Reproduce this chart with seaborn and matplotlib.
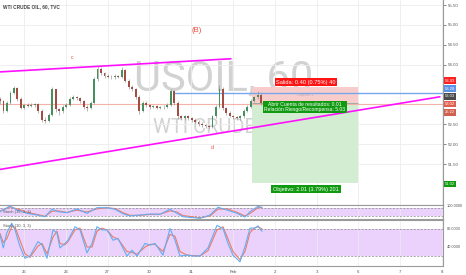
import matplotlib
matplotlib.use('Agg')
import matplotlib.pyplot as plt
import seaborn as sns
import numpy as np

sns.set_theme(style='white')
plt.rcParams['font.family'] = ['Liberation Sans', 'DejaVu Sans']

# ---------------- data ----------------
title = "WTI CRUDE OIL, 60, TVC"
day_labels = ["25", "26", "27", "30", "31", "Feb", "2", "3", "6", "7", "8"]
day_pos = [0, 1, 2, 3, 4, 5, 6, 7, 8, 9, 10]

bar_start = -0.574      # first candle (trading days from Jan 25)
bar_step = 1 / 12       # candle spacing in days
first_open = 53.15
closes = [53.10, 52.85, 53.05, 53.30, 53.42, 53.15, 52.92, 52.98, 52.97, 53.00,
          53.01, 52.85, 52.62, 52.58, 52.75, 53.38, 52.88, 52.84, 52.95, 53.00,
          53.15, 53.19, 53.16, 53.10, 52.95, 52.92, 53.04, 53.65, 53.90, 53.80,
          53.72, 53.70, 53.68, 53.72, 53.70, 53.88, 53.60, 53.45, 53.38, 53.20,
          52.85, 53.05, 52.98, 52.94, 52.96, 52.92, 52.93, 52.95, 53.00, 53.33,
          53.05, 52.70, 52.66, 52.70, 52.66, 52.62, 52.56, 52.52, 52.49, 52.46,
          52.43, 52.70, 52.95, 53.40, 52.92, 52.80, 52.72, 52.68, 52.66, 52.70,
          52.85, 52.95, 53.10, 53.18, 53.25, 53.03]
highs = [53.20, 53.12, 53.08, 53.34, 53.47, 53.44, 53.18, 53.02, 53.03, 53.04,
         53.05, 53.03, 52.88, 52.68, 52.80, 53.43, 53.40, 52.92, 52.99, 53.04,
         53.19, 53.23, 53.22, 53.18, 53.12, 52.99, 53.08, 53.70, 53.96, 53.94,
         53.83, 53.76, 53.74, 53.76, 53.75, 53.95, 53.90, 53.63, 53.49, 53.41,
         53.23, 53.09, 53.08, 53.01, 53.00, 52.99, 52.97, 52.99, 53.05, 53.38,
         53.36, 53.08, 52.74, 52.75, 52.73, 52.69, 52.65, 52.60, 52.55, 52.52,
         52.49, 52.74, 52.99, 53.50, 53.44, 52.95, 52.84, 52.75, 52.71, 52.74,
         52.89, 52.99, 53.14, 53.22, 53.33, 53.28]
lows = [53.02, 52.78, 52.82, 53.02, 53.26, 53.10, 52.88, 52.88, 52.93, 52.94,
        52.95, 52.80, 52.56, 52.53, 52.55, 52.72, 52.82, 52.74, 52.80, 52.91,
        52.97, 53.11, 53.12, 53.05, 52.88, 52.84, 52.89, 53.01, 53.60, 53.74,
        53.67, 53.66, 53.64, 53.65, 53.66, 53.67, 53.56, 53.40, 53.33, 53.14,
        52.77, 52.82, 52.93, 52.90, 52.91, 52.88, 52.89, 52.90, 52.92, 52.97,
        53.00, 52.64, 52.60, 52.62, 52.61, 52.57, 52.51, 52.47, 52.44, 52.41,
        52.38, 52.40, 52.66, 52.92, 52.86, 52.75, 52.68, 52.63, 52.61, 52.62,
        52.67, 52.82, 52.92, 53.06, 53.14, 52.99]

# user drawings
wedge_top_t, wedge_top_p = [-0.574, 4.95], [53.82, 54.15]
wedge_bot_t, wedge_bot_p = [-0.574, 9.95], [51.37, 53.195]
blue_level, blue_from = 53.28, 3.565
red_level = 53.02
pos_t = [5.45, 7.99]
entry, stop, target = 53.03, 53.43, 51.02

# Stoch (10,3,3)
st2_t = [-0.574, -0.495, -0.414, -0.294, -0.215, -0.096, 0.024, 0.144, 0.335, 0.431,
         0.550, 0.694, 0.789, 0.861, 0.981, 1.053, 1.220, 1.340, 1.507, 1.627,
         1.746, 1.866, 1.986, 2.129, 2.249, 2.464, 2.584, 2.703, 2.895, 3.014,
         3.134, 3.325, 3.493, 3.612, 3.732, 3.900, 4.043, 4.211, 4.402, 4.617,
         4.761, 4.880, 5.000, 5.167, 5.287, 5.407, 5.526, 5.598, 5.694]
st2_k = [67, 38, 71, 93, 78, 41, 15, 20, 52, 45, 15, 78, 71, 38, 48, 55, 85, 78, 27, 48,
         85, 78, 78, 55, 59, 20, 33, 20, 48, 44, 48, 22, 81, 55, 20, 22, 20, 20, 38, 88,
         81, 48, 22, 7, 41, 82, 82, 87, 75]
st2_d = [70, 50, 58, 85, 84, 55, 25, 17, 42, 48, 25, 62, 75, 48, 45, 52, 78, 82, 40, 40,
         75, 82, 78, 62, 58, 30, 28, 24, 40, 46, 46, 30, 68, 64, 30, 22, 21, 20, 32, 78,
         85, 58, 30, 12, 30, 72, 83, 85, 80]
# Stoch (15,3,3)
st1_t = [-0.574, -0.335, -0.167, 0.072, 0.311, 0.502, 0.670, 0.813, 1.029, 1.268,
         1.507, 1.746, 1.986, 2.177, 2.368, 2.536, 2.775, 3.014, 3.254, 3.493,
         3.660, 3.804, 4.211, 4.450, 4.641, 4.856, 5.096, 5.287, 5.407, 5.598, 5.694]
st1_k = [52, 92, 64, 41, 29, 17, 69, 52, 45, 71, 41, 80, 80, 69, 38, 22, 29, 36, 34, 69,
         41, 17, 6, 29, 83, 64, 41, 15, 52, 90, 80]
st1_d = [55, 85, 72, 48, 33, 20, 55, 58, 47, 63, 50, 72, 80, 74, 45, 27, 27, 33, 35, 58,
         50, 25, 10, 22, 70, 72, 48, 22, 40, 80, 84]

price_ticks = [51.5, 52.0, 52.5, 54.0, 54.5, 55.0, 55.5]

# ---------------- layout ----------------
W, H = 466, 275
fig = plt.figure(figsize=(W / 100, H / 100), dpi=100)
fig.patch.set_facecolor('white')


def px_axes(x0, y0, x1, y1):
    return fig.add_axes([x0 / W, 1 - y1 / H, (x1 - x0) / W, (y1 - y0) / H])


def ftxt(xp, yp, s, **kw):
    return fig.text(xp / W, 1 - yp / H, s, **kw)


ax = px_axes(0, 0, 443, 205)
ax1 = px_axes(0, 205, 443, 219)
ax2 = px_axes(0, 220, 443, 266)

XL = (-0.574, 10.024)
GRID = '#ededed'
EDGE = '#9a9a9a'
TICKC = '#555555'

for a in (ax, ax1, ax2):
    a.set_xlim(*XL)
    a.set_facecolor('white')
    a.set_xticks(day_pos)
    a.tick_params(axis='x', labelbottom=False, length=0)
    for s in a.spines.values():
        s.set_color(EDGE)
        s.set_linewidth(0.8)
    a.spines['left'].set_visible(False)

ax.spines['top'].set_visible(False)
ax.set_ylim(50.477, 55.626)
ax.grid(True, color=GRID, lw=0.6)
ax.set_axisbelow(True)
ax.yaxis.tick_right()
ax.set_yticks(price_ticks)
ax.set_yticklabels([f"{v:.2f}" for v in price_ticks])
ax.tick_params(axis='y', labelsize=3.2, colors=TICKC, length=2, width=0.5, pad=1.2)

# watermark
WM = ['Roboto', 'Liberation Sans', 'DejaVu Sans']
ax.text(4.77, 53.64, "USOIL, 60", fontsize=30, color='#d2d2d2', ha='center',
        va='center', zorder=0, family=WM)
ax.text(4.74, 52.42, "WTI CRUDE OIL", fontsize=14.5, color='#d2d2d2', ha='center',
        va='center', zorder=0, family=WM)

# position tool
ax.fill_between(pos_t, entry, stop, color='#f9cccc', lw=0, zorder=1)
ax.fill_between(pos_t, target, entry, color='#d3edd3', lw=0, zorder=1)
ax.hlines(entry, pos_t[0], pos_t[1], color='#9e9e9e', lw=0.6, zorder=1.5)

# levels
ax.axhline(red_level, color='#f3b3aa', lw=0.8, zorder=1.2)
ax.hlines(blue_level, blue_from, XL[1], color='#76a6ee', lw=1.0, zorder=1.3)

# candles
c = np.array(closes)
o = np.array([first_open] + closes[:-1])
h = np.array(highs)
l = np.array(lows)
t = bar_start + np.arange(len(c)) * bar_step
up = c >= o
cols = np.where(up, '#478f5c', '#a44d43')
ax.vlines(t, l, h, color='#909090', lw=0.45, zorder=2)
body = np.maximum(np.abs(c - o), 0.012)
ax.bar(t, body, bottom=np.minimum(o, c), width=0.045, color=cols, lw=0, zorder=3)

# wedge lines
sns.lineplot(x=wedge_top_t, y=wedge_top_p, ax=ax, color='#ff10ff', lw=1.2, zorder=4)
sns.lineplot(x=wedge_bot_t, y=wedge_bot_p, ax=ax, color='#ff10ff', lw=1.2, zorder=4)
ax.set_xlabel('')
ax.set_ylabel('')

# annotations
ax.text(4.12, 54.87, "(B)", color='#e8453c', fontsize=5.5, ha='center', va='center')
ax.text(1.15, 54.17, "c", color='#e8453c', fontsize=3.5, ha='center', va='center')
ax.text(4.50, 51.93, "d", color='#e8453c', fontsize=3.8, ha='center', va='center')
ax.text(6.72, 53.25, "Objetivo 1", color='#b9a9b9', fontsize=2.6, ha='center', va='center', zorder=5)

ax.text(6.746, 53.566, "Salida: 0.40 (0.75%) 40", color='white', fontsize=4.1,
        ha='center', va='center', zorder=6,
        bbox=dict(boxstyle='square,pad=0.3', fc='#ff1414', ec='none'))
ax.text(6.72, 52.94, "Abrir Cuenta de resultados: 0.01\nRelación Riesgo/Recompensa: 5.03",
        color='white', fontsize=3.6, ha='center', va='center', zorder=6, linespacing=1.05,
        bbox=dict(boxstyle='square,pad=0.25', fc='#0f9a0f', ec='none'))
ax.text(6.746, 50.877, "Objetivo: 2.01 (3.79%) 201", color='white', fontsize=4.0,
        ha='center', va='center', zorder=6,
        bbox=dict(boxstyle='square,pad=0.3', fc='#0f9a0f', ec='none'))

# title
ftxt(3, 7, title, fontsize=3.4, color='#444444', weight='bold', ha='left', va='center')

# right price labels
for yp, s, fc in [(80.5, "53.43", '#ff2222'), (88.5, "53.28", '#5b93e6'),
                  (96.3, "53.03", '#4a4a4a'), (104.2, "53.02", '#e06050'),
                  (112.3, "25:22", '#d0604f'), (184, "51.02", '#0f9a0f')]:
    ftxt(445, yp, s, fontsize=3.0, color='white', ha='left', va='center',
         bbox=dict(boxstyle='square,pad=0.3', fc=fc, ec='none'))

# stoch panes
BAND = '#ead2fc'
for a, lo_hi, tt, kk, dd, lab, ly in [
        (ax1, (1.2, 98.8), st1_t, st1_k, st1_d, "Stoch (15, 3, 3)", 212),
        (ax2, (-2.2, 100), st2_t, st2_k, st2_d, "Stoch (10, 3, 3)", 226)]:
    a.set_ylim(*lo_hi)
    a.axhspan(20, 80, color=BAND, lw=0, zorder=0)
    a.axhline(20, color='#8a8a8a', lw=0.5, ls=(0, (3, 2)), zorder=1)
    a.axhline(80, color='#8a8a8a', lw=0.5, ls=(0, (3, 2)), zorder=1)
    a.grid(True, axis='x', color=GRID, lw=0.5)
    a.set_axisbelow(True)
    sns.lineplot(x=tt, y=dd, ax=a, color='#f07a66', lw=0.8, zorder=3)
    sns.lineplot(x=tt, y=kk, ax=a, color='#62aef5', lw=0.8, zorder=4)
    a.set_yticks([])
    a.set_xlabel('')
    a.set_ylabel('')
    ftxt(3, ly, lab, fontsize=3.0, color='#555555', ha='left', va='center')

ftxt(447, 205.7, "100.0000", fontsize=2.8, color=TICKC, ha='left', va='center')
ftxt(447, 229, "80.0000", fontsize=2.8, color=TICKC, ha='left', va='center')
ftxt(447, 247, "40.0000", fontsize=2.8, color=TICKC, ha='left', va='center')

ax2.set_xticklabels(day_labels)
ax2.tick_params(axis='x', labelbottom=True, labelsize=3.2, colors=TICKC, length=1.5,
                width=0.5, pad=1.2)

fig.savefig('out.png', dpi=100, facecolor='white')
